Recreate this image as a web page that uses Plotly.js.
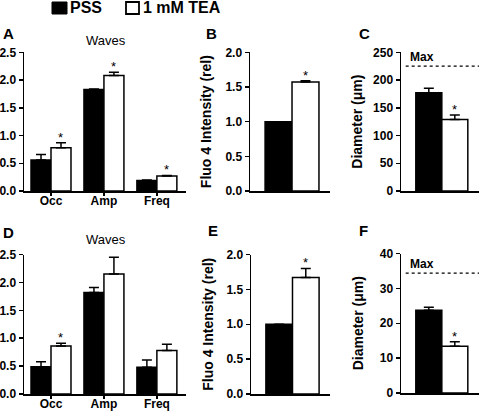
<!DOCTYPE html>
<html>
<head>
<meta charset="utf-8">
<script src="https://cdn.plot.ly/plotly-3.0.1.min.js"></script>
<style>html,body{margin:0;padding:0;background:#fff;}#chart{width:480px;height:411px;}</style>
</head>
<body>
<div id="chart"></div>
<script>
// ---------- data ----------
const seriesNames = ['PSS', '1 mM TEA'];
const waveCats = ['Occ', 'Amp', 'Freq'];

// Panel A (Waves)
const aPSS = [0.56, 1.83, 0.19];
const aPSSerr = [0.10, 0.01, 0.01];
const aTEA = [0.78, 2.08, 0.27];
const aTEAerr = [0.09, 0.06, 0.01];
const aSig = [true, true, true];

// Panel D (Waves)
const dPSS = [0.49, 1.82, 0.48];
const dPSSerr = [0.09, 0.09, 0.13];
const dTEA = [0.86, 2.15, 0.78];
const dTEAerr = [0.05, 0.30, 0.11];
const dSig = [true, false, false];

// Panel B, E (Fluo 4 intensity, rel)
const bVals = [1.0, 1.57];
const bErr = [0, 0.02];
const eVals = [1.0, 1.67];
const eErr = [0, 0.13];

// Panel C, F (Diameter, um)
const cVals = [177, 129];
const cErr = [8, 8];
const cMax = 225;
const fVals = [23.7, 13.4];
const fErr = [0.9, 1.3];
const fMax = 34.4;

// tick labels
const ticksWaves = [0, 0.5, 1.0, 1.5, 2.0, 2.5];
const ticksFluo = [0, 0.5, 1.0, 1.5, 2.0];
const ticksC = [0, 50, 100, 150, 200, 250];
const ticksF = [0, 10, 20, 30, 40];

// ---------- styling / layout ----------
const W = 480, H = 411;
const FONT = 'Liberation Sans, Arial, Helvetica, sans-serif';
const px = (a, b) => [a / W, b / W];
const py = (top, bot) => [1 - bot / H, 1 - top / H];
const colors = ['#000000', '#ffffff'];
const lineW = 1.5;
const bargap = 0.245;
const barHalf = (1 - bargap) / 2; // width of one grouped bar

function errObj(arr) {
  return {type: 'data', symmetric: false, array: arr, arrayminus: arr.map(() => 0),
          color: '#000', thickness: lineW, width: 5, visible: true};
}

const traces = [];
function groupedPanel(pss, pssErr, tea, teaErr, xa, ya) {
  const xs = waveCats.map((c, i) => i);
  traces.push({type: 'bar', name: seriesNames[0], x: xs, y: pss, xaxis: xa, yaxis: ya,
    marker: {color: colors[0], line: {color: '#000', width: lineW}},
    error_y: errObj(pssErr), showlegend: false, hoverinfo: 'y'});
  traces.push({type: 'bar', name: seriesNames[1], x: xs, y: tea, xaxis: xa, yaxis: ya,
    marker: {color: colors[1], line: {color: '#000', width: lineW}},
    error_y: errObj(teaErr), showlegend: false, hoverinfo: 'y'});
}
function pairPanel(vals, errs, xa, ya) {
  traces.push({type: 'bar', name: 'PSS / 1 mM TEA', x: [0, 1], y: vals, width: [1, 1],
    xaxis: xa, yaxis: ya,
    marker: {color: colors, line: {color: '#000', width: lineW}},
    error_y: errObj(errs), showlegend: false, hoverinfo: 'y'});
}

groupedPanel(aPSS, aPSSerr, aTEA, aTEAerr, 'x', 'y');
pairPanel(bVals, bErr, 'x2', 'y2');
pairPanel(cVals, cErr, 'x3', 'y3');
groupedPanel(dPSS, dPSSerr, dTEA, dTEAerr, 'x4', 'y4');
pairPanel(eVals, eErr, 'x5', 'y5');
pairPanel(fVals, fErr, 'x6', 'y6');

const tickFont = {family: FONT, size: 12, color: '#000', weight: 'bold'};
function yAx(domain, range, tickvals, fmt, title) {
  const o = {domain: domain, range: range, tickvals: tickvals, tickformat: fmt,
    ticks: 'outside', ticklen: 4, tickwidth: lineW, tickcolor: '#000',
    showline: true, linewidth: lineW, linecolor: '#000', showgrid: false, zeroline: false,
    tickfont: tickFont, fixedrange: true, automargin: false};
  if (title) o.title = {text: title, font: {family: FONT, size: 14, color: '#000', weight: 'bold'}};
  return o;
}
function xAxCats(domain, anchor) {
  return {domain: domain, anchor: anchor, range: [-0.51, 2.55],
    tickvals: waveCats.map((c, i) => i), ticktext: waveCats,
    ticks: 'outside', ticklen: 3, tickwidth: lineW, tickcolor: '#000',
    ticklabelstandoff: -5,
    showline: true, linewidth: lineW, linecolor: '#000', showgrid: false, zeroline: false,
    tickfont: tickFont, fixedrange: true, automargin: false};
}
function xAxPair(domain, anchor, range) {
  return {domain: domain, anchor: anchor, range: range, showticklabels: false, ticks: '',
    showline: true, linewidth: lineW, linecolor: '#000', showgrid: false, zeroline: false,
    fixedrange: true, automargin: false};
}

const topY = py(52.3, 191);
const botY = py(254.5, 394);

const annotations = [];
function addAnn(text, xpx, ypx, size, bold, xanchor) {
  annotations.push({xref: 'paper', yref: 'paper', x: xpx / W, y: 1 - ypx / H, text: text,
    showarrow: false, xanchor: xanchor || 'left', yanchor: 'middle',
    font: {family: FONT, size: size, color: '#000', weight: bold ? 'bold' : 'normal'}});
}
// panel letters
addAnn('A', 1, 33, 15, true);
addAnn('B', 204, 33, 15, true);
addAnn('C', 357, 33, 15, true);
addAnn('D', 1, 232, 15, true);
addAnn('E', 206, 230, 15, true);
addAnn('F', 357, 230, 15, true);
// panel titles
addAnn('Waves', 106, 40, 13, false, 'center');
addAnn('Waves', 106, 240, 13, false, 'center');
// legend
addAnn(seriesNames[0], 68, 8, 16, true);
addAnn(seriesNames[1], 141, 8, 16, true);

// significance asterisks
function star(xa, ya, x, y) {
  annotations.push({xref: xa, yref: ya, x: x, y: y, text: '*', showarrow: false,
    xanchor: 'center', yanchor: 'bottom', yshift: -4,
    font: {family: FONT, size: 13, color: '#000'}});
}
aSig.forEach((s, i) => { if (s) star('x', 'y', i + barHalf / 2, aTEA[i] + aTEAerr[i]); });
dSig.forEach((s, i) => { if (s) star('x4', 'y4', i + barHalf / 2, dTEA[i] + dTEAerr[i]); });
star('x2', 'y2', 1, bVals[1] + bErr[1]);
star('x3', 'y3', 1, cVals[1] + cErr[1]);
star('x5', 'y5', 1, eVals[1] + eErr[1]);
star('x6', 'y6', 1, fVals[1] + fErr[1]);

// Max labels
annotations.push({xref: 'x3 domain', yref: 'y3', x: 0.09, y: cMax, text: 'Max', showarrow: false,
  xanchor: 'left', yanchor: 'bottom', font: {family: FONT, size: 12, color: '#000', weight: 'bold'}});
annotations.push({xref: 'x6 domain', yref: 'y6', x: 0.09, y: fMax, text: 'Max', showarrow: false,
  xanchor: 'left', yanchor: 'bottom', font: {family: FONT, size: 12, color: '#000', weight: 'bold'}});

const shapes = [
  // Max reference lines
  {type: 'line', xref: 'x3 domain', yref: 'y3', x0: 0.06, x1: 1, y0: cMax, y1: cMax,
   line: {color: '#000', width: 1.2, dash: 'dot'}},
  {type: 'line', xref: 'x6 domain', yref: 'y6', x0: 0.06, x1: 1, y0: fMax, y1: fMax,
   line: {color: '#000', width: 1.2, dash: 'dot'}},
  // legend swatches
  {type: 'rect', xref: 'paper', yref: 'paper', x0: 52 / W, x1: 67 / W, y0: 1 - 14 / H, y1: 1 - 2 / H,
   fillcolor: colors[0], line: {color: '#000', width: 1}},
  {type: 'rect', xref: 'paper', yref: 'paper', x0: 126 / W, x1: 139 / W, y0: 1 - 14 / H, y1: 1 - 2 / H,
   fillcolor: colors[1], line: {color: '#000', width: 1.8}}
];

const layout = {
  width: W, height: H, margin: {l: 0, r: 0, t: 0, b: 0},
  paper_bgcolor: '#fff', plot_bgcolor: 'rgba(0,0,0,0)',
  font: {family: FONT, color: '#000'},
  barmode: 'group', bargap: bargap, bargroupgap: 0,
  showlegend: false,
  xaxis: xAxCats(px(24, 186), 'y'),
  yaxis: yAx(topY, [0, 2.5], ticksWaves, '.1f'),
  xaxis2: xAxPair(px(250, 330), 'y2', [-1.06, 1.91]),
  yaxis2: Object.assign(yAx(topY, [0, 2.0], ticksFluo, '.1f', 'Fluo 4 Intensity (rel)'), {anchor: 'x2'}),
  xaxis3: xAxPair(px(401, 479), 'y3', [-1.07, 1.93]),
  yaxis3: Object.assign(yAx(topY, [0, 250], ticksC, 'd', 'Diameter (μm)'), {anchor: 'x3'}),
  xaxis4: xAxCats(px(24, 186), 'y4'),
  yaxis4: Object.assign(yAx(botY, [0, 2.5], ticksWaves, '.1f'), {anchor: 'x4'}),
  xaxis5: xAxPair(px(251, 330), 'y5', [-1.06, 1.91]),
  yaxis5: Object.assign(yAx(botY, [0, 2.0], ticksFluo, '.1f', 'Fluo 4 Intensity (rel)'), {anchor: 'x5'}),
  xaxis6: xAxPair(px(401, 479), 'y6', [-1.07, 1.93]),
  yaxis6: Object.assign(yAx(py(253.5, 393), [0, 40], ticksF, 'd', 'Diameter (μm)'), {anchor: 'x6'}),
  annotations: annotations,
  shapes: shapes
};
layout.yaxis.anchor = 'x';

Plotly.newPlot('chart', traces, layout, {displayModeBar: false, staticPlot: true});
</script>
</body>
</html>
